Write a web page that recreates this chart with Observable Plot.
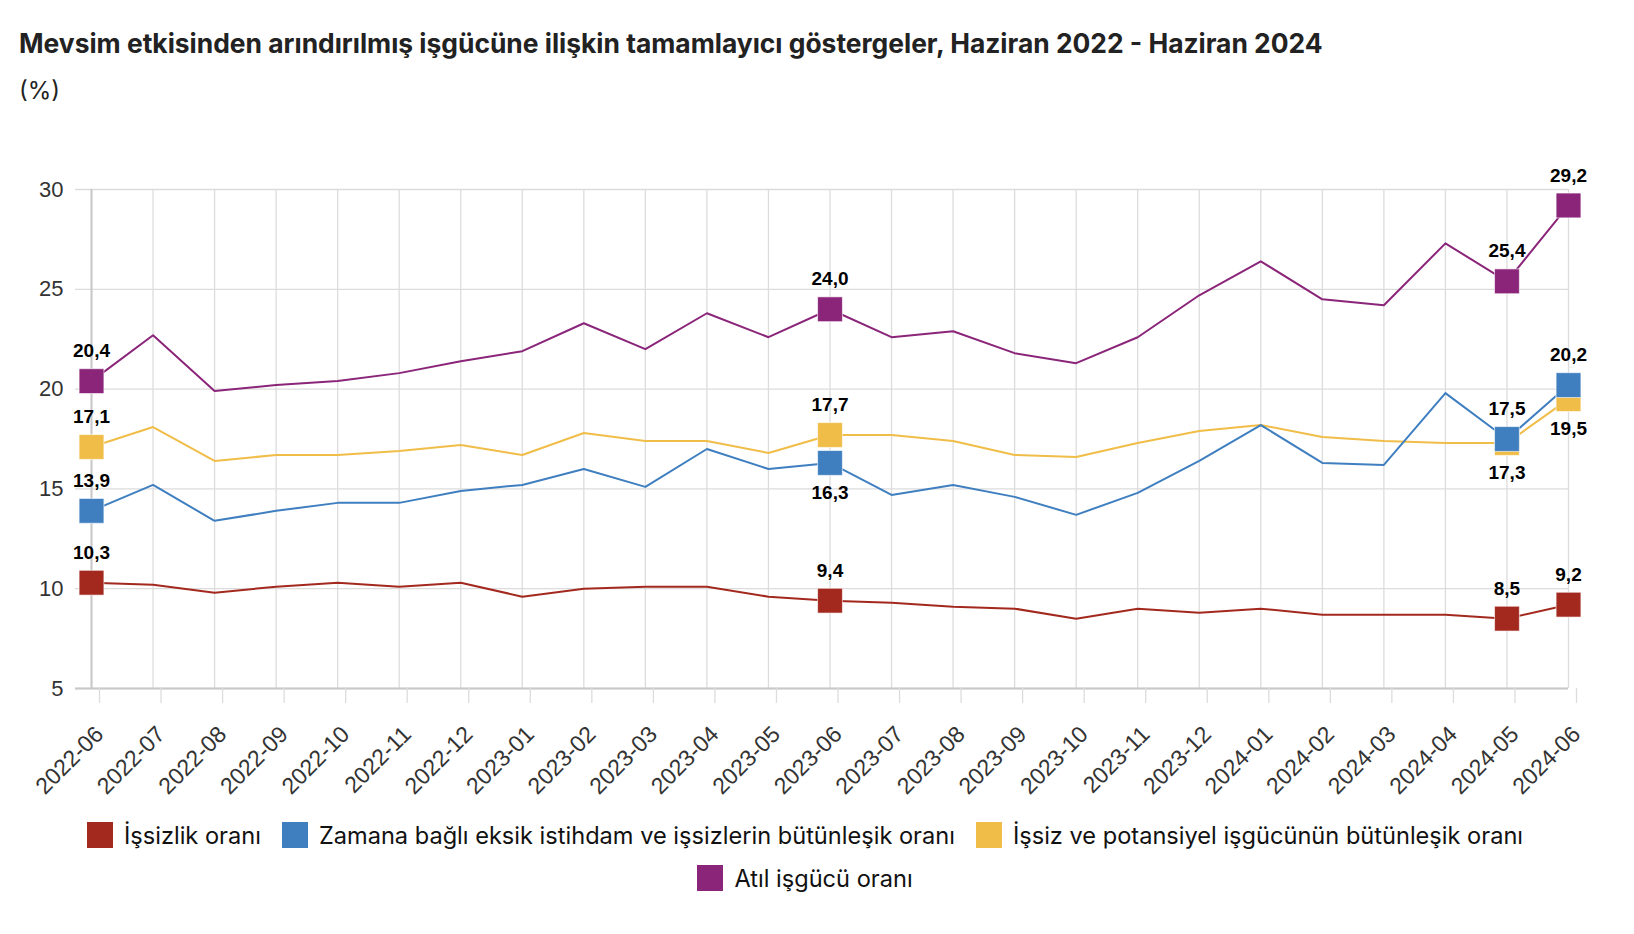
<!DOCTYPE html>
<html>
<head>
<meta charset="utf-8">
<script src="https://cdn.jsdelivr.net/npm/d3@7"></script>
<script src="https://cdn.jsdelivr.net/npm/@observablehq/plot@0.6"></script>
<style>
  html, body { margin: 0; padding: 0; background: #fff; }
  body { width: 1634px; height: 934px; position: relative; overflow: hidden; }
  #title { position: absolute; left: 19px; top: 27px; line-height: 32px; font-family: Inter, "Liberation Sans", sans-serif; font-weight: 700; font-size: 26.4px; color: #222; white-space: nowrap; }
  #subtitle { position: absolute; left: 19px; top: 76px; line-height: 29px; font-family: Inter, "Liberation Sans", sans-serif; font-size: 24px; color: #222; }
  #chart { position: absolute; left: 0; top: 120px; }
  #legend { position: absolute; left: 55px; width: 1500px; top: 822px; display: flex; flex-wrap: wrap; justify-content: center; row-gap: 17px; column-gap: 21px; font-family: Inter, "Liberation Sans", sans-serif; font-size: 23.6px; color: #111; }
  .item { display: flex; align-items: center; gap: 11px; height: 26px; white-space: nowrap; }
  .sw { width: 26px; height: 26px; display: inline-block; }
</style>
</head>
<body>
<div id="title">Mevsim etkisinden arındırılmış işgücüne ilişkin tamamlayıcı göstergeler, Haziran 2022 - Haziran 2024</div>
<div id="subtitle">(%)</div>
<div id="chart"></div>
<div id="legend"></div>
<script>
const months = ["2022-06","2022-07","2022-08","2022-09","2022-10","2022-11","2022-12","2023-01","2023-02","2023-03","2023-04","2023-05","2023-06","2023-07","2023-08","2023-09","2023-10","2023-11","2023-12","2024-01","2024-02","2024-03","2024-04","2024-05","2024-06"];

const seriesNames = [
  "İşsizlik oranı",
  "Zamana bağlı eksik istihdam ve işsizlerin bütünleşik oranı",
  "İşsiz ve potansiyel işgücünün bütünleşik oranı",
  "Atıl işgücü oranı"
];
const seriesColors = ["#a3291f", "#3f7fc0", "#f0bd48", "#8a2579"];

const issizlik = [10.3,10.2,9.8,10.1,10.3,10.1,10.3,9.6,10.0,10.1,10.1,9.6,9.4,9.3,9.1,9.0,8.5,9.0,8.8,9.0,8.7,8.7,8.7,8.5,9.2];
const zamanaBagli = [13.9,15.2,13.4,13.9,14.3,14.3,14.9,15.2,16.0,15.1,17.0,16.0,16.3,14.7,15.2,14.6,13.7,14.8,16.4,18.2,16.3,16.2,19.8,17.5,20.2];
const potansiyel = [17.1,18.1,16.4,16.7,16.7,16.9,17.2,16.7,17.8,17.4,17.4,16.8,17.7,17.7,17.4,16.7,16.6,17.3,17.9,18.2,17.6,17.4,17.3,17.3,19.5];
const atil = [20.4,22.7,19.9,20.2,20.4,20.8,21.4,21.9,23.3,22.0,23.8,22.6,24.0,22.6,22.9,21.8,21.3,22.6,24.7,26.4,24.5,24.2,27.3,25.4,29.2];

const yTicks = [5, 10, 15, 20, 25, 30];
const markerMonths = ["2022-06", "2023-06", "2024-05", "2024-06"];
// labels placed under their marker: [series index, month]
const belowLabels = [[1, "2023-06"], [2, "2024-05"], [2, "2024-06"]];

const seriesValues = [issizlik, zamanaBagli, potansiyel, atil];
const drawOrder = [0, 2, 1, 3];

const rows = [];
for (const s of drawOrder) {
  months.forEach((m, i) => rows.push({month: m, value: seriesValues[s][i], series: seriesNames[s], s}));
}
const markers = rows.filter(d => markerMonths.includes(d.month));
const isBelow = d => belowLabels.some(([s, m]) => s === d.s && m === d.month);
const fmt = v => v.toFixed(1).replace(".", ",");

const W = 1634, H = 690;
const chart = Plot.plot({
  width: W,
  height: H,
  marginLeft: 75,
  marginRight: 66,
  marginTop: 69,
  marginBottom: 122,
  style: {fontFamily: "'Liberation Sans', Arial, sans-serif", background: "#fff", overflow: "visible"},
  x: {type: "point", domain: months, range: [91, 1568], padding: 0, round: false, label: null},
  y: {domain: [5, 30], label: null},
  color: {domain: seriesNames, range: seriesColors},
  marks: [
    Plot.gridY(yTicks, {stroke: "#dcdcdc", strokeOpacity: 1, strokeWidth: 1.3}),
    Plot.ruleX(months, {x: d => d, y1: 5, y2: 30, stroke: "#dcdcdc", strokeWidth: 1.3}),
    Plot.ruleY([5], {stroke: "#c8c8c8", strokeWidth: 2}),
    Plot.ruleX([months[0]], {y1: 5, y2: 30, stroke: "#c8c8c8", strokeWidth: 2}),
    Plot.axisX({tickSize: 15, stroke: "#dcdcdc", strokeWidth: 1.3, fill: "#333", fontSize: 23, tickRotate: -45, tickPadding: 27, dx: 8}),
    Plot.axisY(yTicks, {tickSize: 0, tickPadding: 12, fill: "#333", fontSize: 22}),
    Plot.line(rows, {x: "month", y: "value", z: "series", stroke: "series", strokeWidth: 2}),
    Plot.dot(markers, {x: "month", y: "value", fill: "series", symbol: "square", r: 14, stroke: "#fff", strokeWidth: 0.6}),
    Plot.text(markers.filter(d => !isBelow(d)), {x: "month", y: "value", text: d => fmt(d.value), dy: -30, fontWeight: "bold", fontSize: 19, fill: "#000"}),
    Plot.text(markers.filter(d => isBelow(d)), {x: "month", y: "value", text: d => fmt(d.value), dy: 30, fontWeight: "bold", fontSize: 19, fill: "#000"})
  ]
});
document.getElementById("chart").appendChild(chart);

const legend = document.getElementById("legend");
seriesNames.forEach((n, i) => {
  const it = document.createElement("div");
  it.className = "item";
  const sw = document.createElement("span");
  sw.className = "sw";
  sw.style.background = seriesColors[i];
  const t = document.createElement("span");
  t.textContent = n;
  it.appendChild(sw); it.appendChild(t);
  legend.appendChild(it);
});
</script>
</body>
</html>
